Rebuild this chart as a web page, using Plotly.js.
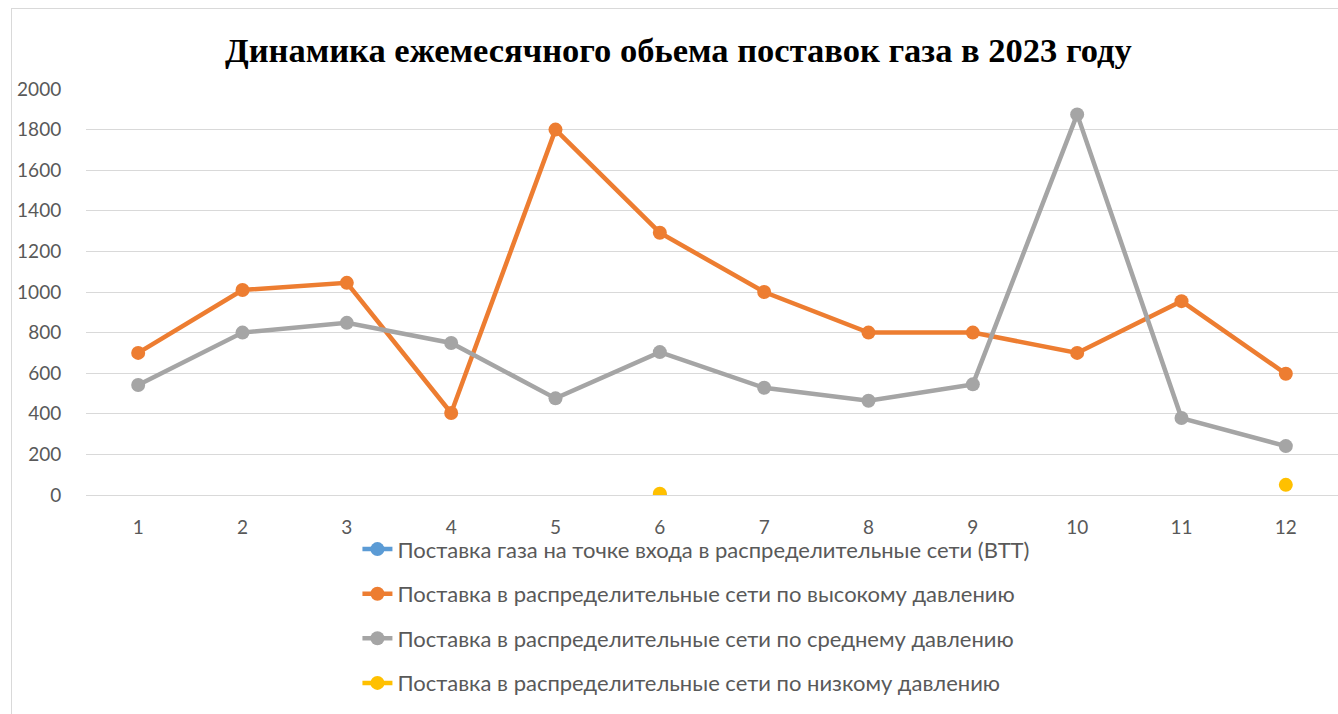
<!DOCTYPE html>
<html><head><meta charset="utf-8">
<script src="https://cdn.plot.ly/plotly-3.0.1.min.js"></script>
<style>
html,body{margin:0;padding:0;background:#fff;}
#frame{position:absolute;left:11px;top:8px;width:1340px;height:720px;border-left:1px solid #d9d9d9;border-top:1px solid #d9d9d9;}
#chart{position:absolute;left:0;top:0;width:1338px;height:714px;}
</style></head>
<body>
<div id="frame"></div>
<div id="chart"></div>
<script>
const months = [1,2,3,4,5,6,7,8,9,10,11,12];
const seriesNames = [
  "Поставка газа на точке входа в распределительные сети (ВТТ)",
  "Поставка в распределительные сети по высокому давлению",
  "Поставка в распределительные сети по среднему давлению",
  "Поставка в распределительные сети по низкому давлению"
];
const vtt = [null,null,null,null,null,0,null,null,null,null,null,null];
const high = [700,1010,1045,404,1800,1292,1000,800,800,700,955,597];
const medium = [542,800,848,749,476,704,528,464,545,1875,379,241];
const low = [null,null,null,null,null,6,null,null,null,null,null,50];
const colors = ["#5b9bd5","#ed7d31","#a5a5a5","#ffc000"];
const yTicks = [0,200,400,600,800,1000,1200,1400,1600,1800,2000];

const data = [vtt, high, medium, low].map((vals,i)=>({
  x: months, y: vals, name: seriesNames[i], type:'scatter', mode:'lines+markers',
  line:{color:colors[i], width:4.5}, marker:{color:colors[i], size:14},
  legendgroup:'g'+i, connectgaps:false
}));

const layout = {
  width:1338, height:714,
  margin:{l:86, r:0, t:89, b:219},
  paper_bgcolor:'rgba(0,0,0,0)', plot_bgcolor:'rgba(0,0,0,0)',
  title:{text:'Динамика ежемесячного обьема поставок газа в 2023 году',
    font:{family:'Liberation Serif, Times New Roman, serif', size:34.5, color:'#000', weight:'bold'},
    x:0.507, xanchor:'center', y:0.93, yanchor:'middle'},
  xaxis:{type:'linear', range:[0.5,12.5], tickvals:months, ticktext:months.map(String),
    showgrid:false, zeroline:false, showline:false,
    ticks:'outside', ticklen:15, tickcolor:'rgba(0,0,0,0)',
    tickfont:{family:'Lato, Open Sans, sans-serif', size:19, color:'#595959'}},
  yaxis:{range:[0,2000], tickvals:yTicks, showgrid:true, gridcolor:'#d9d9d9', gridwidth:1,
    zeroline:true, zerolinecolor:'#d9d9d9', zerolinewidth:1, showline:false,
    ticks:'outside', ticklen:20, tickcolor:'rgba(0,0,0,0)',
    tickfont:{family:'Lato, Open Sans, sans-serif', size:19, color:'#595959'}},
  showlegend:true,
  legend:{orientation:'v', x:0.2168, xanchor:'left', y:-0.082, yanchor:'top',
    font:{family:'Lato, Open Sans, sans-serif', size:22, color:'#595959'},
    tracegroupgap:13, bgcolor:'rgba(0,0,0,0)'},
};
Plotly.newPlot('chart', data, layout, {displayModeBar:false, staticPlot:true});
</script>
</body></html>
